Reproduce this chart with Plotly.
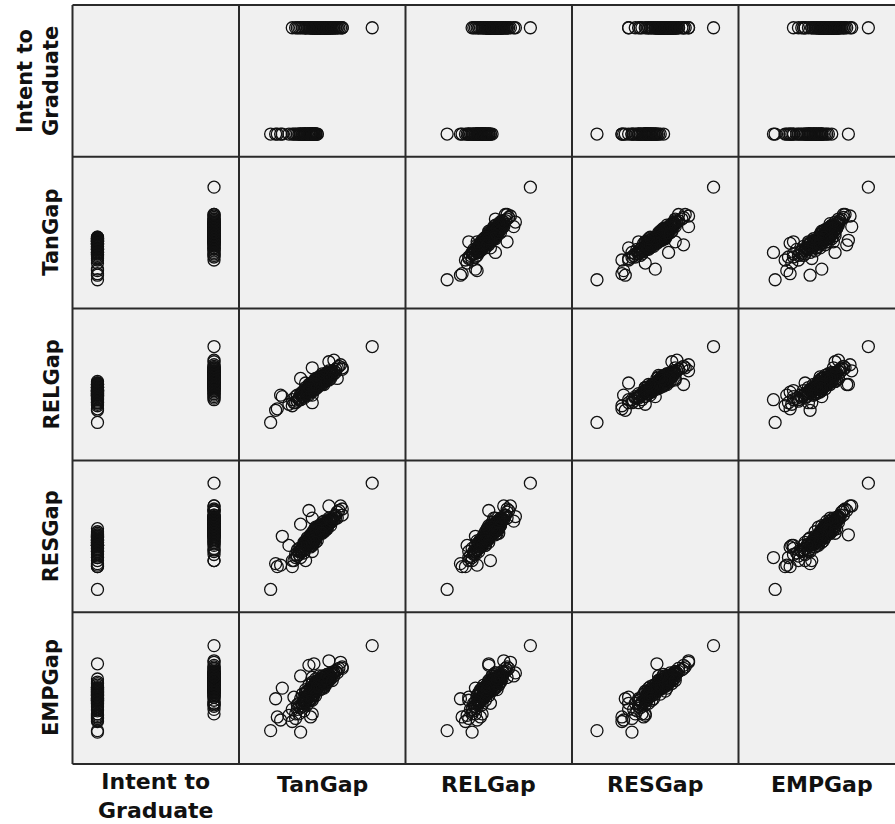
import plotly.graph_objects as go

# ---- data (Intent: 0/1; gap scores in panel-relative units 0-100) ----
intent = [0]*35 + [1]*62 + [1]*40 + [0]*20
tan_gap = [19,23,22,25,37,32,30,33,35,36,38,39,40,43,42,43,44,45,46,47,42,40,44,46,39,37,41,43,45,36,34,44,26,44,46,
           80,32,34,36,38,40,41,42,43,44,45,46,47,48,49,50,51,52,53,54,55,56,57,58,59,60,62,61,54,57,54,42,37,62,45,46,47,48,49,50,51,52,53,47,48,49,50,51,44,43,46,52,53,55,56,58,40,39,35,44,59,40,
           45,47,49,50,52,48,46,51,53,50,47,49,52,54,48,45,51,53,55,50,44,46,48,52,54,49,51,47,53,56,43,45,50,52,55,57,48,46,54,50,
           40,42,44,38,41,45,43,39,46,40,42,44,37,45,41,43,47,39,46,42]
rel_gap = [25,34,33,43,40,36,37,38,39,41,42,43,44,45,44,46,47,48,49,50,47,45,51,52,41,43,46,48,50,40,38,46,42,38,51,
           75,40,42,41,44,45,47,46,48,49,50,51,50,52,53,54,53,55,56,57,58,57,59,60,61,62,61,63,65,66,59,50,54,60,52,53,52,54,55,53,56,54,55,51,50,52,51,52,48,47,49,57,58,56,59,58,44,46,43,61,54,51,
           49,53,51,55,53,55,50,54,57,52,54,50,56,55,52,51,50,54,57,57,50,54,49,52,58,53,55,49,53,56,49,48,50,55,54,57,54,52,53,56,
           46,43,48,45,47,46,50,44,47,48,45,43,44,49,45,47,48,42,50,49]
res_gap = [15,30,32,31,36,30,44,34,37,38,40,41,42,43,45,44,46,47,48,50,49,47,52,55,39,41,44,45,51,42,36,44,50,40,53,
           85,34,38,40,42,44,46,48,47,50,51,52,53,54,55,56,57,58,59,60,61,62,63,64,66,67,68,70,60,63,70,67,58,64,53,54,55,56,57,55,58,57,56,52,53,54,53,56,51,49,50,59,60,59,61,62,46,45,41,62,62,34,
           54,52,57,54,58,52,55,53,57,59,56,52,55,60,57,50,55,58,57,58,52,51,55,56,61,53,60,50,55,60,48,53,57,54,59,61,54,56,62,52,
           45,47,44,43,49,46,48,46,50,44,48,45,40,49,45,51,47,44,46,47]
emp_gap = [22,31,43,29,21,28,32,44,36,40,38,42,41,31,46,43,47,45,48,50,52,49,54,56,35,37,39,42,66,33,30,33,50,42,53,
           78,36,33,38,40,42,44,45,47,46,48,49,50,51,52,53,54,55,56,57,58,59,60,61,62,63,64,67,58,60,68,65,58,63,52,53,54,55,56,52,57,55,54,50,51,53,54,55,49,48,51,58,59,57,60,61,47,44,39,57,60,40,
           50,55,52,57,53,49,54,50,54,56,51,55,52,55,58,48,51,57,56,54,53,50,52,58,56,49,53,52,59,55,50,46,50,56,60,58,53,48,55,58,
           44,45,48,46,43,50,47,40,49,47,42,45,43,46,48,50,51,41,45,49]

var_labels = ["Intent to<br>Graduate", "TanGap", "RELGap", "RESGap", "EMPGap"]
variables = [intent, tan_gap, rel_gap, res_gap, emp_gap]

W, H = 895, 824
col_edges = [72.5, 239, 405.5, 572, 738.5, 905]
row_edges = [5, 156.8, 308.6, 460.4, 612.2, 764]
intent_range = [-0.2143, 1.2143]
gap_range = [0, 100]

def px(x):
    return x / W

def py(y):
    return 1 - y / H

fig = go.Figure()
layout = dict(width=W, height=H, margin=dict(l=0, r=0, t=0, b=0),
              paper_bgcolor="white", plot_bgcolor="rgba(0,0,0,0)",
              showlegend=False)

for i in range(5):
    for j in range(5):
        k = i * 5 + j + 1
        xa = "xaxis" if k == 1 else f"xaxis{k}"
        ya = "yaxis" if k == 1 else f"yaxis{k}"
        xr = "x" if k == 1 else f"x{k}"
        yr = "y" if k == 1 else f"y{k}"
        x0, x1 = col_edges[j], min(col_edges[j + 1], W)
        xrng = list(intent_range) if j == 0 else list(gap_range)
        if col_edges[j + 1] > W:
            full = col_edges[j + 1] - col_edges[j]
            xrng = [xrng[0], xrng[0] + (xrng[1] - xrng[0]) * (W - col_edges[j]) / full]
        yrng = list(intent_range) if i == 0 else list(gap_range)
        common = dict(showgrid=False, zeroline=False, showticklabels=False,
                      ticks="", showline=False, fixedrange=True)
        layout[xa] = dict(domain=[px(x0), px(x1)], range=xrng, anchor=yr, **common)
        layout[ya] = dict(domain=[py(row_edges[i + 1]), py(row_edges[i])], range=yrng, anchor=xr, **common)
        if i != j:
            fig.add_trace(go.Scatter(
                x=variables[j], y=variables[i], mode="markers",
                xaxis=xr, yaxis=yr,
                marker=dict(symbol="circle-open", size=12, color="#111111",
                            line=dict(width=1.3, color="#111111")),
                hoverinfo="skip"))

shapes = [dict(type="rect", xref="paper", yref="paper", layer="below",
               x0=px(col_edges[0]), x1=1, y0=py(row_edges[-1]), y1=py(row_edges[0]),
               fillcolor="#f0f0f0", line=dict(width=0))]
line_style = dict(color="#2a2a2a", width=2)
for xe in col_edges[:-1]:
    shapes.append(dict(type="line", xref="paper", yref="paper", layer="above",
                       x0=px(xe), x1=px(xe), y0=py(row_edges[-1]), y1=py(row_edges[0]),
                       line=line_style))
for ye in row_edges:
    shapes.append(dict(type="line", xref="paper", yref="paper", layer="above",
                       x0=px(col_edges[0]), x1=1, y0=py(ye), y1=py(ye),
                       line=line_style))
layout["shapes"] = shapes

font_b = dict(family="DejaVu Sans", size=22, color="#111111")
font_l = dict(family="DejaVu Sans", size=21, color="#111111")
ann = []
for j in range(5):
    cx = (col_edges[j] + col_edges[j + 1]) / 2
    label = var_labels[j]
    cy = 796 if "<br>" in label else 784
    bold = "<br>".join(f"<b>{t}</b>" for t in label.split("<br>"))
    ann.append(dict(text=bold, x=px(cx), y=py(cy), xref="paper", yref="paper",
                    xanchor="center", yanchor="middle", showarrow=False, font=font_b))
for i in range(5):
    cy = (row_edges[i] + row_edges[i + 1]) / 2
    lines = var_labels[i].split("<br>")
    xs = [51] if len(lines) == 1 else [25, 51]
    for n, t in enumerate(lines):
        ann.append(dict(text=f"<b>{t}</b>", x=px(xs[n]), y=py(cy), xref="paper", yref="paper",
                        xanchor="center", yanchor="middle", textangle=-90, showarrow=False, font=font_l))
layout["annotations"] = ann

fig.update_layout(**layout)
fig.write_html("out.html")
